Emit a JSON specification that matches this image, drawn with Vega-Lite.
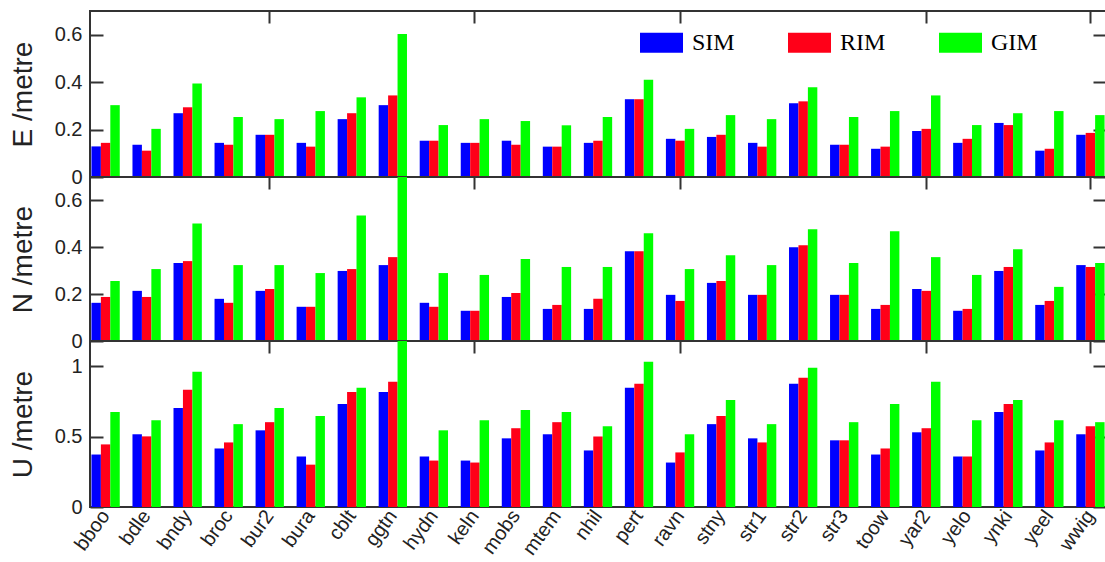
{
  "$schema": "https://vega.github.io/schema/vega-lite/v6.json",
  "padding": {"left": 8, "top": 9, "right": 0, "bottom": 0},
  "background": "white",
  "spacing": 0,
  "bounds": "flush",
  "datasets": {
    "E": [
      {"s": "bboo", "SIM": 0.129, "RIM": 0.144, "GIM": 0.303},
      {"s": "bdle", "SIM": 0.136, "RIM": 0.111, "GIM": 0.203},
      {"s": "bndy", "SIM": 0.269, "RIM": 0.294, "GIM": 0.394},
      {"s": "broc", "SIM": 0.144, "RIM": 0.136, "GIM": 0.253},
      {"s": "bur2", "SIM": 0.178, "RIM": 0.178, "GIM": 0.244},
      {"s": "bura", "SIM": 0.144, "RIM": 0.128, "GIM": 0.278},
      {"s": "cblt", "SIM": 0.244, "RIM": 0.269, "GIM": 0.336},
      {"s": "ggtn", "SIM": 0.303, "RIM": 0.344, "GIM": 0.603},
      {"s": "hydn", "SIM": 0.153, "RIM": 0.153, "GIM": 0.219},
      {"s": "keln", "SIM": 0.144, "RIM": 0.144, "GIM": 0.244},
      {"s": "mobs", "SIM": 0.153, "RIM": 0.136, "GIM": 0.236},
      {"s": "mtem", "SIM": 0.128, "RIM": 0.128, "GIM": 0.218},
      {"s": "nhil", "SIM": 0.144, "RIM": 0.153, "GIM": 0.253},
      {"s": "pert", "SIM": 0.328, "RIM": 0.328, "GIM": 0.41},
      {"s": "ravn", "SIM": 0.161, "RIM": 0.153, "GIM": 0.203},
      {"s": "stny", "SIM": 0.169, "RIM": 0.178, "GIM": 0.261},
      {"s": "str1", "SIM": 0.144, "RIM": 0.128, "GIM": 0.244},
      {"s": "str2", "SIM": 0.311, "RIM": 0.319, "GIM": 0.378},
      {"s": "str3", "SIM": 0.136, "RIM": 0.136, "GIM": 0.253},
      {"s": "toow", "SIM": 0.119, "RIM": 0.128, "GIM": 0.278},
      {"s": "yar2", "SIM": 0.194, "RIM": 0.203, "GIM": 0.344},
      {"s": "yelo", "SIM": 0.144, "RIM": 0.161, "GIM": 0.219},
      {"s": "ynki", "SIM": 0.228, "RIM": 0.219, "GIM": 0.269},
      {"s": "yeel", "SIM": 0.111, "RIM": 0.119, "GIM": 0.278},
      {"s": "wwig", "SIM": 0.178, "RIM": 0.186, "GIM": 0.261}
    ],
    "N": [
      {"s": "bboo", "SIM": 0.163, "RIM": 0.188, "GIM": 0.256},
      {"s": "bdle", "SIM": 0.214, "RIM": 0.188, "GIM": 0.307},
      {"s": "bndy", "SIM": 0.333, "RIM": 0.341, "GIM": 0.502},
      {"s": "broc", "SIM": 0.18, "RIM": 0.163, "GIM": 0.324},
      {"s": "bur2", "SIM": 0.214, "RIM": 0.222, "GIM": 0.324},
      {"s": "bura", "SIM": 0.146, "RIM": 0.146, "GIM": 0.29},
      {"s": "cblt", "SIM": 0.299, "RIM": 0.307, "GIM": 0.536},
      {"s": "ggtn", "SIM": 0.324, "RIM": 0.358, "GIM": 0.75},
      {"s": "hydn", "SIM": 0.163, "RIM": 0.146, "GIM": 0.29},
      {"s": "keln", "SIM": 0.129, "RIM": 0.129, "GIM": 0.282},
      {"s": "mobs", "SIM": 0.188, "RIM": 0.205, "GIM": 0.35},
      {"s": "mtem", "SIM": 0.137, "RIM": 0.154, "GIM": 0.316},
      {"s": "nhil", "SIM": 0.137, "RIM": 0.18, "GIM": 0.316},
      {"s": "pert", "SIM": 0.383, "RIM": 0.383, "GIM": 0.46},
      {"s": "ravn", "SIM": 0.197, "RIM": 0.171, "GIM": 0.307},
      {"s": "stny", "SIM": 0.248, "RIM": 0.256, "GIM": 0.366},
      {"s": "str1", "SIM": 0.197, "RIM": 0.197, "GIM": 0.324},
      {"s": "str2", "SIM": 0.4, "RIM": 0.409, "GIM": 0.477},
      {"s": "str3", "SIM": 0.197, "RIM": 0.197, "GIM": 0.333},
      {"s": "toow", "SIM": 0.137, "RIM": 0.154, "GIM": 0.468},
      {"s": "yar2", "SIM": 0.222, "RIM": 0.214, "GIM": 0.358},
      {"s": "yelo", "SIM": 0.129, "RIM": 0.137, "GIM": 0.282},
      {"s": "ynki", "SIM": 0.299, "RIM": 0.316, "GIM": 0.392},
      {"s": "yeel", "SIM": 0.154, "RIM": 0.171, "GIM": 0.231},
      {"s": "wwig", "SIM": 0.324, "RIM": 0.316, "GIM": 0.333}
    ],
    "U": [
      {"s": "bboo", "SIM": 0.373, "RIM": 0.445, "GIM": 0.675},
      {"s": "bdle", "SIM": 0.517, "RIM": 0.502, "GIM": 0.617},
      {"s": "bndy", "SIM": 0.703, "RIM": 0.833, "GIM": 0.962},
      {"s": "broc", "SIM": 0.416, "RIM": 0.459, "GIM": 0.589},
      {"s": "bur2", "SIM": 0.545, "RIM": 0.603, "GIM": 0.703},
      {"s": "bura", "SIM": 0.359, "RIM": 0.301, "GIM": 0.646},
      {"s": "cblt", "SIM": 0.732, "RIM": 0.818, "GIM": 0.847},
      {"s": "ggtn", "SIM": 0.818, "RIM": 0.89, "GIM": 1.25},
      {"s": "hydn", "SIM": 0.359, "RIM": 0.33, "GIM": 0.545},
      {"s": "keln", "SIM": 0.33, "RIM": 0.316, "GIM": 0.617},
      {"s": "mobs", "SIM": 0.488, "RIM": 0.56, "GIM": 0.689},
      {"s": "mtem", "SIM": 0.517, "RIM": 0.603, "GIM": 0.675},
      {"s": "nhil", "SIM": 0.402, "RIM": 0.502, "GIM": 0.574},
      {"s": "pert", "SIM": 0.847, "RIM": 0.876, "GIM": 1.033},
      {"s": "ravn", "SIM": 0.316, "RIM": 0.388, "GIM": 0.517},
      {"s": "stny", "SIM": 0.589, "RIM": 0.646, "GIM": 0.761},
      {"s": "str1", "SIM": 0.488, "RIM": 0.459, "GIM": 0.589},
      {"s": "str2", "SIM": 0.876, "RIM": 0.919, "GIM": 0.99},
      {"s": "str3", "SIM": 0.474, "RIM": 0.474, "GIM": 0.603},
      {"s": "toow", "SIM": 0.373, "RIM": 0.416, "GIM": 0.732},
      {"s": "yar2", "SIM": 0.531, "RIM": 0.56, "GIM": 0.89},
      {"s": "yelo", "SIM": 0.359, "RIM": 0.359, "GIM": 0.617},
      {"s": "ynki", "SIM": 0.675, "RIM": 0.732, "GIM": 0.761},
      {"s": "yeel", "SIM": 0.402, "RIM": 0.459, "GIM": 0.617},
      {"s": "wwig", "SIM": 0.517, "RIM": 0.574, "GIM": 0.603}
    ]
  },
  "config": {
    "view": {"stroke": "#333333", "strokeWidth": 2},
    "font": "Liberation Sans",
    "axis": {
      "labelFont": "Liberation Sans",
      "labelFontSize": 20,
      "labelColor": "#222222",
      "titleFont": "Liberation Sans",
      "titleFontSize": 28,
      "titleFontWeight": "normal",
      "titleColor": "#222222",
      "tickColor": "#333333",
      "tickWidth": 2,
      "domain": false,
      "grid": false
    }
  },
  "resolve": {"legend": {"color": "independent"}},
  "vconcat": [
    {
      "width": 1016,
      "height": 166,
      "data": {"name": "E"},
      "transform": [{"fold": ["SIM", "RIM", "GIM"], "as": ["m", "v"]}],
      "layer": [
        {
          "mark": {"type": "bar", "clip": true},
          "encoding": {
            "x": {"field": "s", "type": "nominal", "sort": null, "scale": {"paddingInner": 0.31, "paddingOuter": 0.035}, "axis": null},
            "xOffset": {"field": "m", "type": "nominal", "sort": ["SIM", "RIM", "GIM"], "scale": {"paddingInner": 0, "paddingOuter": 0}},
            "y": {"field": "v", "type": "quantitative", "scale": {"domain": [0, 0.7], "nice": false}, "axis": {"values": [0, 0.2, 0.4, 0.6], "format": "~g", "title": "E /metre", "tickSize": -13, "labelPadding": 21, "titlePadding": 17}},
            "color": {"field": "m", "type": "nominal", "scale": {"domain": ["SIM", "RIM", "GIM"], "range": ["#0000ff", "#ff0018", "#00ff00"]}, "legend": {"orient": "none", "legendX": 550, "legendY": 10, "direction": "horizontal", "columns": 3, "title": null, "symbolType": "M-1,-0.465H1V0.465H-1Z", "symbolSize": 1849, "symbolStrokeWidth": 0, "symbolOpacity": 1, "labelFont": "Liberation Serif", "labelFontSize": 24, "labelColor": "#000000", "labelOffset": 9, "columnPadding": 53, "labelLimit": 0, "padding": 0}}
          }
        },
        {
          "mark": {"type": "tick", "opacity": 0},
          "encoding": {
            "x": {"field": "s", "type": "nominal", "sort": null, "axis": {"orient": "top", "values": ["bur2", "keln", "ravn", "yar2", "wwig"], "labels": false, "domain": false, "tickSize": 12, "offset": -12, "title": null}},
            "y": {"field": "v", "type": "quantitative", "axis": {"orient": "right", "values": [0, 0.2, 0.4, 0.6], "labels": false, "domain": false, "tickSize": 13, "offset": -13, "title": null}}
          }
        }
      ],
      "resolve": {"axis": {"x": "independent", "y": "independent"}}
    },
    {
      "width": 1016,
      "height": 164,
      "data": {"name": "N"},
      "transform": [{"fold": ["SIM", "RIM", "GIM"], "as": ["m", "v"]}],
      "layer": [
        {
          "mark": {"type": "bar", "clip": true},
          "encoding": {
            "x": {"field": "s", "type": "nominal", "sort": null, "scale": {"paddingInner": 0.31, "paddingOuter": 0.035}, "axis": null},
            "xOffset": {"field": "m", "type": "nominal", "sort": ["SIM", "RIM", "GIM"], "scale": {"paddingInner": 0, "paddingOuter": 0}},
            "y": {"field": "v", "type": "quantitative", "scale": {"domain": [0, 0.7], "nice": false}, "axis": {"values": [0, 0.2, 0.4, 0.6], "format": "~g", "title": "N /metre", "tickSize": -13, "labelPadding": 21, "titlePadding": 17}},
            "color": {"field": "m", "type": "nominal", "scale": {"domain": ["SIM", "RIM", "GIM"], "range": ["#0000ff", "#ff0018", "#00ff00"]}, "legend": null}
          }
        },
        {
          "mark": {"type": "tick", "opacity": 0},
          "encoding": {
            "x": {"field": "s", "type": "nominal", "sort": null, "axis": {"orient": "top", "values": ["bur2", "keln", "ravn", "yar2", "wwig"], "labels": false, "domain": false, "tickSize": 12, "offset": -12, "title": null}},
            "y": {"field": "v", "type": "quantitative", "axis": {"orient": "right", "values": [0, 0.2, 0.4, 0.6], "labels": false, "domain": false, "tickSize": 13, "offset": -13, "title": null}}
          }
        }
      ],
      "resolve": {"axis": {"x": "independent", "y": "independent"}}
    },
    {
      "width": 1016,
      "height": 166,
      "data": {"name": "U"},
      "transform": [{"fold": ["SIM", "RIM", "GIM"], "as": ["m", "v"]}],
      "layer": [
        {
          "mark": {"type": "bar", "clip": true},
          "encoding": {
            "x": {"field": "s", "type": "nominal", "sort": null, "scale": {"paddingInner": 0.31, "paddingOuter": 0.035}, "axis": {"orient": "bottom", "title": null, "ticks": false, "tickSize": 0, "domain": false, "labelAngle": -54, "labelAlign": "right", "labelBaseline": "middle", "labelPadding": 5, "labelFontSize": 20}},
            "xOffset": {"field": "m", "type": "nominal", "sort": ["SIM", "RIM", "GIM"], "scale": {"paddingInner": 0, "paddingOuter": 0}},
            "y": {"field": "v", "type": "quantitative", "scale": {"domain": [0, 1.18], "nice": false}, "axis": {"values": [0, 0.5, 1], "format": "~g", "title": "U /metre", "tickSize": -13, "labelPadding": 21, "titlePadding": 17}},
            "color": {"field": "m", "type": "nominal", "scale": {"domain": ["SIM", "RIM", "GIM"], "range": ["#0000ff", "#ff0018", "#00ff00"]}, "legend": null}
          }
        },
        {
          "mark": {"type": "tick", "opacity": 0},
          "encoding": {
            "x": {"field": "s", "type": "nominal", "sort": null, "axis": {"orient": "top", "values": ["bur2", "keln", "ravn", "yar2", "wwig"], "labels": false, "domain": false, "tickSize": 12, "offset": -12, "title": null}},
            "y": {"field": "v", "type": "quantitative", "axis": {"orient": "right", "values": [0, 0.5, 1], "labels": false, "domain": false, "tickSize": 13, "offset": -13, "title": null}}
          }
        }
      ],
      "resolve": {"axis": {"x": "independent", "y": "independent"}}
    }
  ]
}
